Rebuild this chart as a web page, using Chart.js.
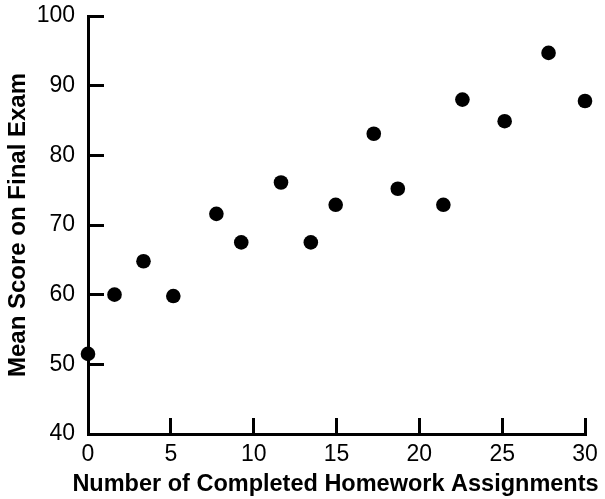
<!DOCTYPE html>
<html>
<head>
<meta charset="utf-8">
<script src="https://cdn.jsdelivr.net/npm/chart.js@4/dist/chart.umd.min.js"></script>
<style>
  html, body { margin: 0; padding: 0; background: #fff; }
  #wrap { width: 605px; height: 499px; }
</style>
</head>
<body>
<div id="wrap"><canvas id="scatter"></canvas></div>
<script>
// DADOS
const homeworkDone = [0, 1.6, 3.35, 5.15, 7.75, 9.25, 11.65, 13.45, 14.95, 17.25, 18.7, 21.45, 22.6, 25.15, 27.8, 30];
const meanScore = [51.5, 60, 64.8, 59.8, 71.6, 67.5, 76.1, 67.5, 72.9, 83.1, 75.2, 72.9, 88, 84.9, 94.7, 87.8];

const xTitle = 'Number of Completed Homework Assignments';
const yTitle = 'Mean Score on Final Exam';

const pontos = homeworkDone.map((x, i) => ({ x: x, y: meanScore[i] }));

const fonte = '"Liberation Sans", Arial, Helvetica, sans-serif';

// titulo do eixo X desenhado a mao, o do Chart.js fica espremido na largura do eixo
const tituloX = {
  id: 'tituloX',
  afterDraw(chart) {
    const { ctx } = chart;
    const x = chart.scales.x;
    ctx.save();
    ctx.font = 'bold 23.5px ' + fonte;
    ctx.fillStyle = '#000';
    ctx.textAlign = 'center';
    ctx.textBaseline = 'middle';
    ctx.fillText(xTitle, (x.left + x.right) / 2 - 1, x.bottom - 14);
    ctx.restore();
  }
};

// GRAFICO
const ctx = document.getElementById('scatter').getContext('2d');

new Chart(ctx, {
  type: 'scatter',
  data: {
    datasets: [{
      data: pontos,
      backgroundColor: '#000',
      borderWidth: 0,
      pointRadius: 7.3,
      pointHoverRadius: 7.3,
      clip: false
    }]
  },
  options: {
    responsive: true,
    maintainAspectRatio: false,
    animation: false,
    layout: { padding: { top: 16, right: 20, bottom: 0, left: 0 } },
    plugins: {
      legend: { display: false },
      tooltip: { enabled: false }
    },
    scales: {
      x: {
        type: 'linear',
        min: 0,
        max: 30,
        // tamanho fixo, sem padding extra dos labels
        afterFit: (scale) => {
          scale.height = 65;
          scale.paddingLeft = 0;
          scale.paddingRight = 0;
        },
        border: { display: true, color: '#000', width: 3 },
        grid: { drawOnChartArea: false, drawTicks: true, tickLength: -16, color: '#000', lineWidth: 3 },
        ticks: { stepSize: 5, color: '#000', padding: 23, font: { family: fonte, size: 23 } },
        title: { display: false }
      },
      y: {
        type: 'linear',
        min: 40,
        max: 100,
        afterFit: (scale) => {
          scale.width = 88;
          scale.paddingTop = 0;
          scale.paddingBottom = 0;
        },
        border: { display: true, color: '#000', width: 3 },
        grid: { drawOnChartArea: false, drawTicks: true, tickLength: -16, color: '#000', lineWidth: 3 },
        ticks: { stepSize: 10, color: '#000', padding: 29, font: { family: fonte, size: 23 } },
        title: {
          display: true,
          text: yTitle,
          color: '#000',
          padding: { top: 4, bottom: 0 },
          font: { family: fonte, size: 24, weight: 'bold' }
        }
      }
    }
  },
  plugins: [tituloX]
});
</script>
</body>
</html>
